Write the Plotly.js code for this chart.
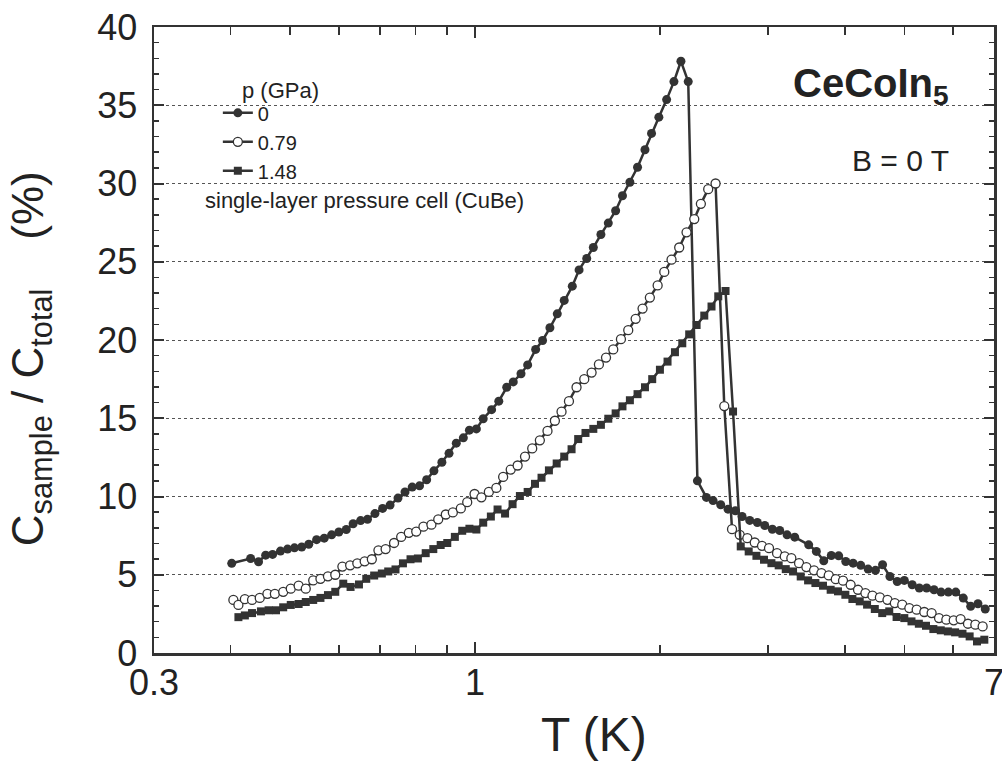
<!DOCTYPE html>
<html>
<head>
<meta charset="utf-8">
<script src="https://cdn.plot.ly/plotly-3.0.1.min.js"></script>
<style>html,body{margin:0;padding:0;background:#fff;}#chart{width:1002px;height:767px;}</style>
</head>
<body>
<div id="chart"></div>
<script>
// p = 0 GPa (filled circles)
const T_p0 = [0.4015,0.431,0.444,0.456,0.468,0.482,0.495,0.508,0.522,0.536,0.552,0.568,0.584,0.600,0.617,0.633,0.651,0.668,0.687,0.707,0.727,0.749,0.769,0.790,0.812,0.834,0.857,0.883,0.907,0.932,0.957,0.979,1.005,1.031,
  1.064,1.093,1.126,1.154,1.188,1.218,1.255,1.288,1.324,1.361,1.397,1.440,1.477,1.520,1.558,1.603,1.648,1.694,1.738,1.787,1.839,1.891,1.938,1.992,2.051,2.108,2.164,2.224,
  2.302,2.381,2.441,2.512,2.582,2.654,2.722,2.801,2.882,2.963,3.049,3.134,3.222,3.316,3.494,3.596,3.697,3.803,3.910,4.015,4.127,4.247,4.366,4.488,4.609,4.738,4.870,5.001,5.151,5.290,5.438,5.590,5.740,5.899,6.065,6.239,6.414,6.591,6.774];
const C_p0 = [5.73,6.04,5.83,6.25,6.30,6.51,6.64,6.72,6.77,6.95,7.24,7.34,7.55,7.73,7.89,8.26,8.46,8.54,8.91,9.24,9.45,9.90,10.29,10.60,10.68,11.07,11.64,12.19,12.76,13.41,13.75,14.24,14.32,14.97,
  15.55,16.09,16.98,17.32,17.84,18.41,19.40,19.97,20.78,21.67,22.53,23.44,24.48,25.21,25.91,26.74,27.47,28.26,29.22,30.08,31.04,32.16,33.20,34.24,35.36,36.51,37.81,36.51,
  11.0,9.94,9.74,9.47,9.19,9.09,8.72,8.47,8.34,8.15,7.91,7.83,7.55,7.40,6.91,6.49,5.89,6.23,6.21,5.85,5.74,5.60,5.36,5.28,5.64,4.89,4.57,4.64,4.36,4.15,4.15,4.04,3.89,3.89,3.89,3.51,2.98,3.15,2.81];

// p = 0.79 GPa (open circles)
const T_p079 = [0.404,0.4117,0.4218,0.4333,0.446,0.459,0.472,0.487,0.501,0.516,0.530,0.545,0.560,0.576,0.592,0.608,0.626,0.643,0.661,0.679,0.696,0.715,0.738,0.758,0.780,0.802,0.824,0.849,0.871,0.896,0.920,0.948,0.971,0.998,1.024,1.053,1.083,
  1.111,1.143,1.173,1.206,1.239,1.275,1.312,1.349,1.383,1.422,1.463,1.506,1.548,1.591,1.634,1.679,1.728,1.776,1.826,1.874,1.926,1.983,2.033,2.089,2.150,2.210,2.275,2.332,2.397,2.464,2.546,
  2.621,2.698,2.776,2.854,2.933,3.011,3.103,3.194,3.274,3.370,3.464,3.565,3.665,3.767,3.867,3.974,4.089,4.204,4.322,4.438,4.563,4.695,4.826,4.962,5.096,5.238,5.390,5.540,5.696,5.854,6.018,6.176,6.349,6.527,6.708];
const C_p079 = [3.39,3.07,3.44,3.39,3.52,3.78,3.78,3.91,4.11,4.30,4.11,4.64,4.74,4.90,5.00,5.52,5.60,5.73,5.86,5.99,6.56,6.64,7.03,7.42,7.68,7.76,8.07,8.20,8.54,8.85,8.98,9.24,9.64,10.16,9.95,10.29,10.55,
  11.25,11.72,11.98,12.55,13.07,13.59,14.19,14.84,15.42,16.09,16.98,17.50,17.92,18.44,18.88,19.40,20.05,20.63,21.35,22.01,22.71,23.49,24.35,25.13,25.91,26.88,27.73,28.70,29.64,30.00,15.78,
  7.91,7.55,7.34,7.06,6.85,6.70,6.38,6.17,6.06,5.74,5.49,5.28,5.11,4.96,4.72,4.62,4.36,4.04,3.83,3.66,3.55,3.40,3.19,3.09,2.87,2.77,2.62,2.55,2.23,2.13,2.09,2.17,1.87,1.81,1.70];

// p = 1.48 GPa (filled squares)
const T_p148 = [0.4117,0.4218,0.4333,0.448,0.461,0.474,0.487,0.501,0.516,0.530,0.545,0.560,0.576,0.592,0.610,0.627,0.647,0.665,0.685,0.705,0.722,0.742,0.763,0.785,0.807,0.831,0.855,0.879,0.901,0.927,0.953,0.979,1.005,
  1.031,1.061,1.088,1.119,1.151,1.183,1.218,1.252,1.283,1.319,1.358,1.397,1.436,1.472,1.513,1.558,1.603,1.648,1.694,1.738,1.787,1.839,1.891,1.943,2.000,2.058,2.116,2.175,2.232,2.295,2.362,2.427,2.489,2.558,
  2.631,2.708,2.790,2.872,2.955,3.038,3.122,3.206,3.295,3.391,3.486,3.583,3.687,3.794,3.900,4.009,4.116,4.231,4.349,4.477,4.603,4.726,4.858,5.001,5.137,5.281,5.424,5.576,5.733,5.888,6.050,6.220,6.389,6.568,6.751];
const C_p148 = [2.29,2.40,2.55,2.66,2.73,2.73,2.92,3.07,3.13,3.26,3.39,3.52,3.70,3.91,4.43,4.22,4.38,4.74,4.95,5.08,5.21,5.34,5.73,5.99,6.04,6.38,6.64,6.90,7.03,7.42,7.81,7.94,7.89,
  8.33,8.72,9.17,8.91,9.51,10.03,10.29,10.81,11.20,11.67,12.11,12.55,13.02,13.67,14.06,14.32,14.58,14.97,15.31,15.76,16.15,16.54,16.98,17.50,18.10,18.62,19.22,19.79,20.36,20.96,21.56,22.14,22.79,23.13,
  15.43,6.81,6.49,6.21,5.96,5.74,5.60,5.36,5.21,4.89,4.64,4.47,4.30,4.04,3.94,3.72,3.45,3.30,3.09,2.81,2.55,2.66,2.30,2.23,2.02,1.87,1.74,1.53,1.45,1.38,1.32,1.23,1.06,0.74,0.85];

const seriesNames = ['0', '0.79', '1.48'];
const xTickVals = [0.3, 1, 7];
const xTickText = ['0.3', '1', '7'];
const xMinorVals = [0.4, 0.5, 0.6, 0.7, 0.8, 0.9, 2, 3, 4, 5, 6];

const INK = '#333333';
const FONT = 'Liberation Sans, Arial, Helvetica, sans-serif';

function tr(x, y, name, symbol, fill, lw) {
  return {
    x: x, y: y, name: name, type: 'scatter', mode: 'lines+markers',
    line: {color: INK, width: 2.5},
    marker: {symbol: symbol, size: symbol === 'square' ? 8 : 9, color: fill, line: {color: INK, width: lw}},
    hoverinfo: 'skip'
  };
}
const data = [
  tr(T_p0, C_p0, seriesNames[0], 'circle', INK, 0),
  tr(T_p079, C_p079, seriesNames[1], 'circle', '#ffffff', 1.3),
  tr(T_p148, C_p148, seriesNames[2], 'square', INK, 0)
];

const layout = {
  width: 1002, height: 767,
  margin: {l: 154, r: 8, t: 27, b: 114, pad: 0},
  paper_bgcolor: '#ffffff', plot_bgcolor: '#ffffff',
  font: {family: FONT, color: '#222', size: 22},
  showlegend: true,
  legend: {x: 0.076, y: 0.894, xanchor: 'left', yanchor: 'top', bgcolor: 'rgba(0,0,0,0)',
    font: {size: 20, family: FONT, color: '#222'}, tracegroupgap: 0},
  xaxis: {
    type: 'log', range: [Math.log10(0.3), Math.log10(7)],
    tickmode: 'array', tickvals: xTickVals, ticktext: xTickText,
    ticks: 'inside', ticklen: 11, tickwidth: 2, tickcolor: INK,
    showline: true, linecolor: INK, linewidth: 2.5, mirror: 'ticks',
    showgrid: false, zeroline: false, ticklabeloverflow: 'allow', ticklabelstandoff: -4,
    tickfont: {size: 36, family: FONT, color: '#222'},
    minor: {tickmode: 'array', tickvals: xMinorVals, ticks: 'inside', ticklen: 8, tickwidth: 1.5, tickcolor: INK, showgrid: false}
  },
  yaxis: {
    range: [0, 40], tick0: 0, dtick: 5,
    ticks: 'inside', ticklen: 10, tickwidth: 2, tickcolor: INK,
    showline: true, linecolor: INK, linewidth: 2.5, mirror: 'ticks',
    showgrid: true, gridcolor: '#555', gridwidth: 1, griddash: 'dot', zeroline: false,
    ticklabelstandoff: 7,
    tickfont: {size: 36, family: FONT, color: '#222'},
    minor: {dtick: 1, ticks: 'inside', ticklen: 5, tickwidth: 1.5, tickcolor: INK, showgrid: false}
  },
  annotations: [
    {xref: 'paper', yref: 'paper', x: 0.524, y: -0.13, xanchor: 'center', yanchor: 'middle', showarrow: false,
     text: 'T (K)', font: {size: 48, family: FONT, color: '#222'}},
    {xref: 'paper', yref: 'paper', x: -0.147, y: 0.47, xanchor: 'center', yanchor: 'middle', showarrow: false, textangle: -90,
     text: 'C<sub>sample</sub> / C<sub>total</sub>    (%)', font: {size: 44, family: FONT, color: '#222'}},
    {xref: 'paper', yref: 'paper', x: 0.758, y: 0.905, xanchor: 'left', yanchor: 'middle', showarrow: false,
     text: '<b>CeCoIn<sub>5</sub></b>', font: {size: 40, family: FONT, color: '#222'}},
    {xref: 'paper', yref: 'paper', x: 0.8286, y: 0.786, xanchor: 'left', yanchor: 'middle', showarrow: false,
     text: 'B = 0 T', font: {size: 30, family: FONT, color: '#222'}},
    {xref: 'paper', yref: 'paper', x: 0.102, y: 0.899, xanchor: 'left', yanchor: 'middle', showarrow: false,
     text: 'p (GPa)', font: {size: 22, family: FONT, color: '#222'}},
    {xref: 'paper', yref: 'paper', x: 0.0583, y: 0.7236, xanchor: 'left', yanchor: 'middle', showarrow: false,
     text: 'single-layer pressure cell (CuBe)', font: {size: 22, family: FONT, color: '#222'}}
  ]
};

Plotly.newPlot('chart', data, layout, {staticPlot: true, displayModeBar: false});
</script>
</body>
</html>
